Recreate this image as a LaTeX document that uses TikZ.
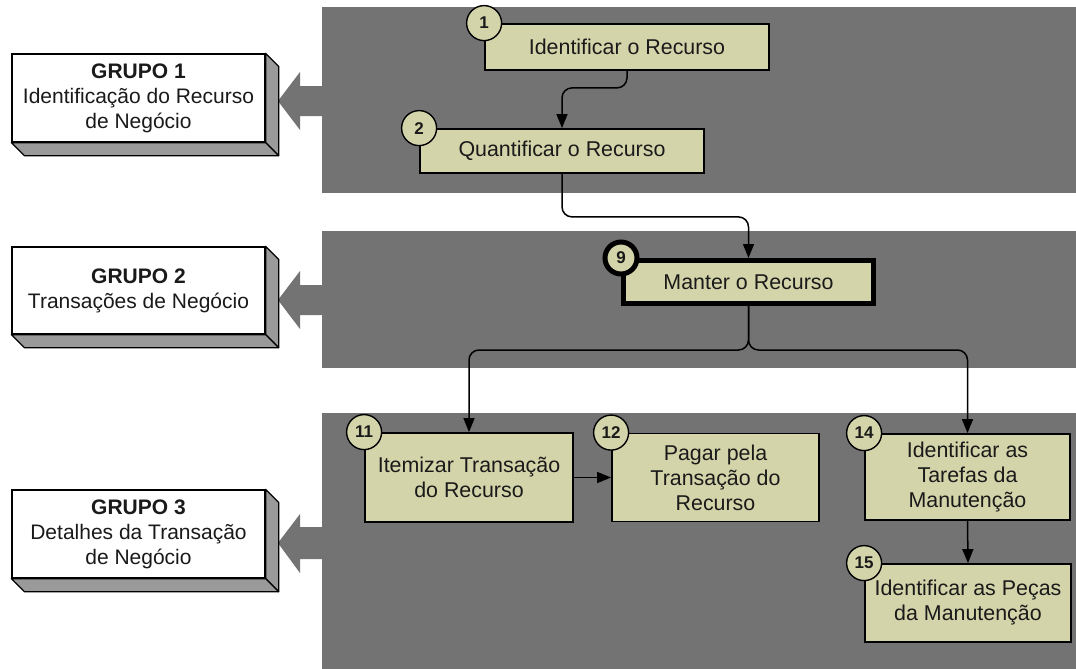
\documentclass[tikz,border=0pt]{standalone}
\usepackage{fontspec}
\setmainfont{Liberation Sans}
\usetikzlibrary{arrows.meta,calc}
\definecolor{panelgray}{HTML}{737373}
\definecolor{boxfill}{HTML}{D4D4AA}
\definecolor{sidegray}{HTML}{9A9A9A}
\definecolor{txt}{HTML}{1A1A1A}
\begin{document}
\begin{tikzpicture}[x=1pt,y=-1pt,
  proc/.style={draw=black, line width=1.8pt, fill=boxfill, inner sep=0pt, align=center, text=txt, font=\fontsize{21.4}{25}\selectfont},
  num/.style={circle, draw=black, line width=1.4pt, fill=boxfill, minimum size=35pt, inner sep=0pt, text=txt, font=\fontsize{17}{17}\selectfont\bfseries},
  grp/.style={draw=black, line width=1.3pt, fill=white, minimum width=253pt, inner sep=0pt, align=center, text=txt, font=\fontsize{21}{25}\selectfont},
  side/.style={fill=sidegray, draw=black, line width=1.3pt, line join=round},
  bigarrow/.style={fill=panelgray},
  conn/.style={line width=1.5pt, rounded corners=10pt, -{Triangle[length=14pt,width=11pt]}},
  ]
\useasboundingbox (0,0) rectangle (1076,669);
\fill[white] (0,0) rectangle (1076,669);
% panels
\fill[panelgray] (322,7) rectangle (1076,193);
\fill[panelgray] (322,231) rectangle (1076,368);
\fill[panelgray] (322,413) rectangle (1076,669);
% big arrows
\fill[bigarrow] (278,101) -- (300,72) -- (300,86) -- (323,86) -- (323,116) -- (300,116) -- (300,130) -- cycle;
\fill[bigarrow] (278,300) -- (300,271) -- (300,285) -- (323,285) -- (323,315) -- (300,315) -- (300,329) -- cycle;
\fill[bigarrow] (278,543) -- (300,514) -- (300,527) -- (323,527) -- (323,559) -- (300,559) -- (300,573) -- cycle;
% group boxes
\node[grp, minimum height=88pt] (g1) at (138.5,98) {\textbf{GRUPO 1}\\Identificação do Recurso\\de Negócio};
\node[grp, minimum height=87pt] (g2) at (138.5,290.5) {\textbf{GRUPO 2}\\Transações de Negócio};
\node[grp, minimum height=88pt] (g3) at (138.5,534) {\textbf{GRUPO 3}\\Detalhes da Transação\\de Negócio};
\foreach \g in {g1,g2,g3}{
  \draw[side] (\g.north east) -- ++(13,13) -- ($(\g.south east)+(13,13)$) -- (\g.south east) -- cycle;
  \draw[side] (\g.south west) -- (\g.south east) -- ++(13,13) -- ($(\g.south west)+(13,13)$) -- cycle;
}
% process boxes
\node[proc, minimum width=284pt, minimum height=46pt] (b1) at (627,47) {Identificar o Recurso};
\node[proc, minimum width=284pt, minimum height=44pt] (b2) at (562,151) {Quantificar o Recurso};
\node[proc, line width=5pt, minimum width=250pt, minimum height=43pt] (b9) at (748.5,282) {Manter o Recurso};
\node[proc, minimum width=208pt, minimum height=89pt] (b11) at (469,477.5) {Itemizar Transação\\do Recurso};
\node[proc, minimum width=207pt, minimum height=88pt] (b12) at (715.5,477.5) {Pagar pela\\Transação do\\Recurso};
\node[proc, minimum width=205pt, minimum height=86pt] (b14) at (967.5,477) {Identificar as\\Tarefas da\\Manutenção};
\node[proc, minimum width=206pt, minimum height=78pt] (b15) at (968,603) {Identificar as Peças\\da Manutenção};
% number circles
\node[num] (n1) at (b1.north west) {1};
\node[num] (n2) at (b2.north west) {2};
\node[num, line width=5pt, minimum size=32pt] (n9) at (b9.north west) {9};
\node[num] (n11) at (b11.north west) {11};
\node[num] (n12) at (b12.north west) {12};
\node[num] (n14) at (b14.north west) {14};
\node[num] (n15) at (b15.north west) {15};
% connectors
\draw[conn] (b1.south) -- ++(0,17) -| (b2.north);
\draw[conn] (b2.south) -- ++(0,43) -| (b9.north);
\draw[conn] (b9.south) -- ++(0,44) -| (b11.north);
\draw[conn] (b9.south) -- ++(0,44) -| (b14.north);
\draw[conn] (b11.east) -- (b12.west);
\draw[conn] (b14.south) -- (b15.north);
\end{tikzpicture}
\end{document}
